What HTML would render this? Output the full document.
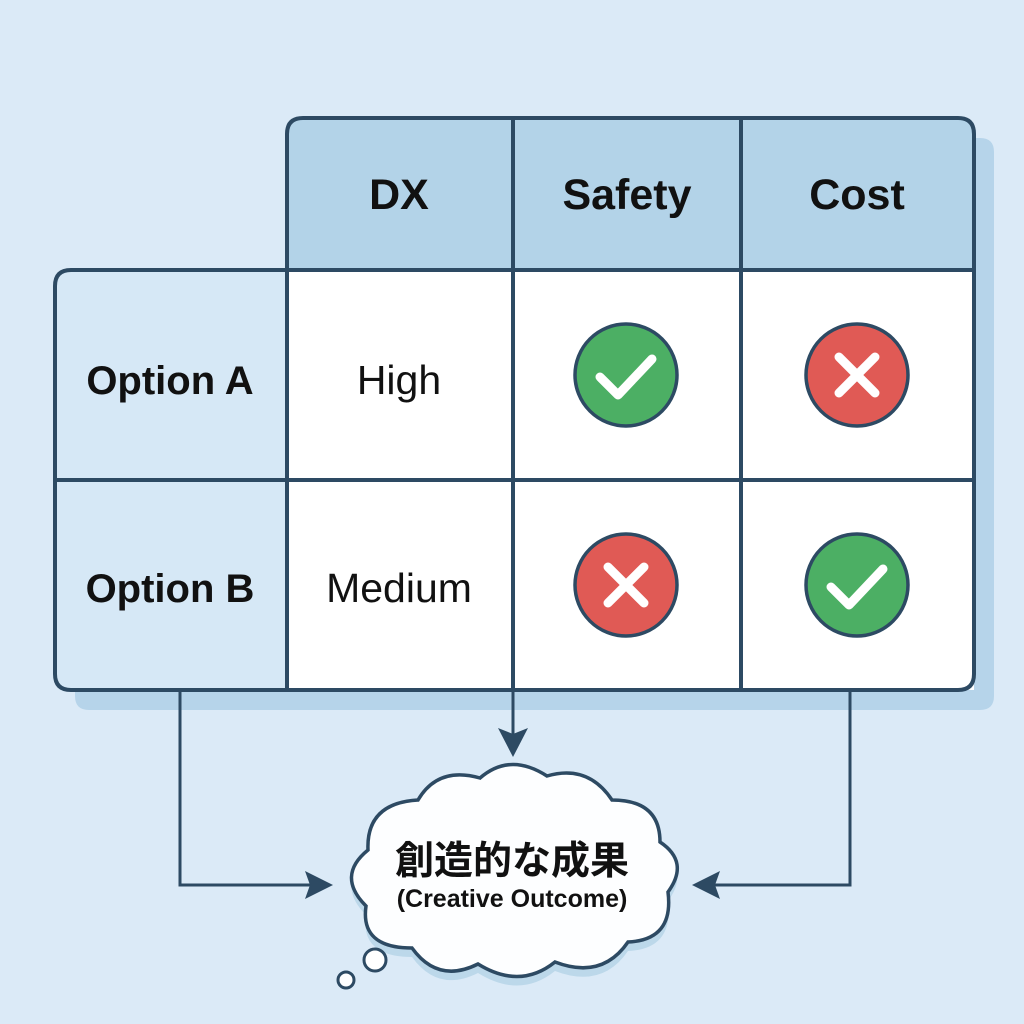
<!DOCTYPE html>
<html><head><meta charset="utf-8"><style>
html,body{margin:0;padding:0;background:#dbeaf7;}
svg{display:block}
text{font-family:"Liberation Sans","Noto Sans CJK JP",sans-serif;fill:#111;}
</style></head><body>
<svg width="1024" height="1024" viewBox="0 0 1024 1024" xmlns="http://www.w3.org/2000/svg">
<rect width="1024" height="1024" fill="#dbeaf7"/>
<path d="M307 138 H980 Q994 138 994 152 V696 Q994 710 980 710 H89 Q75 710 75 696 V290 H307 Z" fill="#b6d4ea"/>
<path d="M287 270 V134 Q287 118 303 118 H958 Q974 118 974 134 V270 Z" fill="#b3d3e8"/>
<path d="M287 270 H71 Q55 270 55 286 V674 Q55 690 71 690 H287 Z" fill="#d6e8f6"/>
<rect x="287" y="270" width="687" height="420" fill="#ffffff"/>
<g fill="none" stroke="#2d4a63" stroke-width="4" stroke-linejoin="round">
<path d="M287 270 V134 Q287 118 303 118 H958 Q974 118 974 134 V674 Q974 690 958 690 H71 Q55 690 55 674 V286 Q55 270 71 270 H974"/>
<line x1="287" y1="270" x2="287" y2="690"/>
<line x1="513" y1="118" x2="513" y2="690"/>
<line x1="741" y1="118" x2="741" y2="690"/>
<line x1="55" y1="480" x2="974" y2="480"/>
</g>
<g font-weight="bold" font-size="43" text-anchor="middle">
<text x="399" y="209">DX</text>
<text x="627" y="209">Safety</text>
<text x="857" y="209">Cost</text>
</g>
<g font-weight="bold" font-size="40" text-anchor="middle">
<text x="170" y="394">Option A</text>
<text x="170" y="602">Option B</text>
</g>
<g font-size="41" text-anchor="middle">
<text x="399" y="394">High</text>
<text x="399" y="602">Medium</text>
</g>
<g stroke="#2d4a63" stroke-width="3.5">
<circle cx="626" cy="375" r="51" fill="#4caf64"/>
<circle cx="857" cy="375" r="51" fill="#e05a55"/>
<circle cx="626" cy="585" r="51" fill="#e05a55"/>
<circle cx="857" cy="585" r="51" fill="#4caf64"/>
</g>
<g stroke="#fff" stroke-width="9" stroke-linecap="round" stroke-linejoin="round" fill="none">
<path d="M600 377 L618 395 L652 359"/>
<path d="M831 587 L849 605 L883 569"/>
<path d="M839 357 L875 393 M875 357 L839 393"/>
<path d="M608 567 L644 603 M644 567 L608 603"/>
</g>
<g stroke="#2d4a63" stroke-width="3" fill="none">
<path d="M180 690 V885 H310"/>
<path d="M850 690 V885 H715"/>
<path d="M513 690 V735"/>
</g>
<g fill="#2d4a63">
<path d="M333 885 L305 871 L310 885 L305 899 Z"/>
<path d="M692 885 L720 871 L715 885 L720 899 Z"/>
<path d="M513 757 L498 728 L513 734 L528 728 Z"/>
</g>
<g>
<path d="M418 800 Q438 766 480 778 Q510 752 547 776 Q588 764 612 800 Q660 800 660 842 Q690 862 668 892 Q674 940 628 942 Q602 980 555 962 Q520 990 478 964 Q438 984 412 948 Q360 948 366 906 Q336 876 368 850 Q366 803 418 800 Z" fill="#bcd8ea" transform="translate(0,9)"/>
<path d="M418 800 Q438 766 480 778 Q510 752 547 776 Q588 764 612 800 Q660 800 660 842 Q690 862 668 892 Q674 940 628 942 Q602 980 555 962 Q520 990 478 964 Q438 984 412 948 Q360 948 366 906 Q336 876 368 850 Q366 803 418 800 Z" fill="#fdfeff" stroke="#2d4a63" stroke-width="3.5"/>
<circle cx="375" cy="960" r="11" fill="#fff" stroke="#2d4a63" stroke-width="3"/>
<circle cx="346" cy="980" r="8" fill="#fff" stroke="#2d4a63" stroke-width="3"/>
</g>
<text x="512" y="874" text-anchor="middle" font-size="39" font-weight="bold">創造的な成果</text>
<text x="512" y="907" text-anchor="middle" font-size="25" font-weight="bold">(Creative Outcome)</text>
</svg>
</body></html>
